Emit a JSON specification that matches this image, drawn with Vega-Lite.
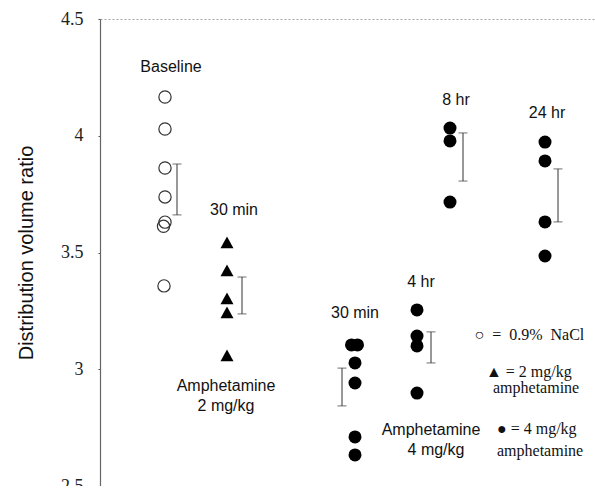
{
  "$schema": "https://vega.github.io/schema/vega-lite/v6.json",
  "width": 496,
  "height": 467,
  "autosize": {"type": "none"},
  "padding": {"left": 100, "top": 19, "right": 0, "bottom": 0},
  "background": "white",
  "config": {
    "view": {"stroke": "#a0a0a0", "strokeDash": [2, 2], "strokeWidth": 1},
    "axis": {"grid": false}
  },
  "datasets": {
    "points": [
      {"group": "Baseline", "pos": 1.30, "value": 4.166},
      {"group": "Baseline", "pos": 1.30, "value": 4.029},
      {"group": "Baseline", "pos": 1.30, "value": 3.862},
      {"group": "Baseline", "pos": 1.30, "value": 3.738},
      {"group": "Baseline", "pos": 1.30, "value": 3.630},
      {"group": "Baseline", "pos": 1.27, "value": 3.612},
      {"group": "Baseline", "pos": 1.28, "value": 3.357},
      {"group": "2 mg/kg 30 min", "pos": 2.54, "value": 3.541},
      {"group": "2 mg/kg 30 min", "pos": 2.54, "value": 3.421},
      {"group": "2 mg/kg 30 min", "pos": 2.54, "value": 3.301},
      {"group": "2 mg/kg 30 min", "pos": 2.54, "value": 3.241},
      {"group": "2 mg/kg 30 min", "pos": 2.54, "value": 3.057},
      {"group": "4 mg/kg 30 min", "pos": 5.03, "value": 3.104},
      {"group": "4 mg/kg 30 min", "pos": 5.15, "value": 3.104},
      {"group": "4 mg/kg 30 min", "pos": 5.10, "value": 3.027},
      {"group": "4 mg/kg 30 min", "pos": 5.10, "value": 2.941},
      {"group": "4 mg/kg 30 min", "pos": 5.10, "value": 2.710},
      {"group": "4 mg/kg 30 min", "pos": 5.10, "value": 2.633},
      {"group": "4 mg/kg 4 hr", "pos": 6.34, "value": 3.254},
      {"group": "4 mg/kg 4 hr", "pos": 6.34, "value": 3.142},
      {"group": "4 mg/kg 4 hr", "pos": 6.34, "value": 3.100},
      {"group": "4 mg/kg 4 hr", "pos": 6.34, "value": 2.898},
      {"group": "4 mg/kg 8 hr", "pos": 7.00, "value": 4.033},
      {"group": "4 mg/kg 8 hr", "pos": 7.00, "value": 3.978},
      {"group": "4 mg/kg 8 hr", "pos": 7.00, "value": 3.716},
      {"group": "4 mg/kg 24 hr", "pos": 8.90, "value": 3.973},
      {"group": "4 mg/kg 24 hr", "pos": 8.90, "value": 3.892},
      {"group": "4 mg/kg 24 hr", "pos": 8.90, "value": 3.631},
      {"group": "4 mg/kg 24 hr", "pos": 8.90, "value": 3.485}
    ],
    "errors": [
      {"group": "Baseline", "pos": 1.54, "lo": 3.661, "hi": 3.879},
      {"group": "2 mg/kg 30 min", "pos": 2.84, "lo": 3.237, "hi": 3.395},
      {"group": "4 mg/kg 30 min", "pos": 4.84, "lo": 2.843, "hi": 3.005},
      {"group": "4 mg/kg 4 hr", "pos": 6.62, "lo": 3.027, "hi": 3.160},
      {"group": "4 mg/kg 8 hr", "pos": 7.26, "lo": 3.806, "hi": 4.012},
      {"group": "4 mg/kg 24 hr", "pos": 9.16, "lo": 3.631, "hi": 3.858}
    ],
    "labels": [
      {"pos": 1.42, "value": 4.294, "text": "Baseline"},
      {"pos": 2.68, "value": 3.682, "text": "30 min"},
      {"pos": 2.52, "value": 2.928, "text": "Amphetamine"},
      {"pos": 2.52, "value": 2.843, "text": "2 mg/kg"},
      {"pos": 5.10, "value": 3.241, "text": "30 min"},
      {"pos": 6.42, "value": 3.374, "text": "4 hr"},
      {"pos": 7.12, "value": 4.153, "text": "8 hr"},
      {"pos": 8.94, "value": 4.097, "text": "24 hr"},
      {"pos": 6.62, "value": 2.740, "text": "Amphetamine"},
      {"pos": 6.72, "value": 2.654, "text": "4 mg/kg"}
    ],
    "key": [
      {"pos": 7.49, "value": 3.147, "text": "○\u00a0 =\u00a0 0.9%\u00a0 NaCl"},
      {"pos": 7.72, "value": 2.990, "text": "▲ = 2 mg/kg"},
      {"pos": 7.86, "value": 2.920, "text": "amphetamine"},
      {"pos": 7.94, "value": 2.742, "text": "● = 4 mg/kg"},
      {"pos": 7.94, "value": 2.652, "text": "amphetamine"}
    ]
  },
  "encoding": {
    "x": {"field": "pos", "type": "quantitative", "scale": {"domain": [0, 9.92]}, "axis": null},
    "y": {
      "field": "value",
      "type": "quantitative",
      "scale": {"domain": [2.5, 4.5], "nice": false, "zero": false},
      "axis": {
        "title": "Distribution volume ratio",
        "values": [2.5, 3, 3.5, 4, 4.5],
        "labelExpr": "datum.value + ''",
        "labelFont": "Liberation Serif",
        "labelFontSize": 18,
        "labelColor": "#222",
        "labelPadding": 15,
        "tickSize": 2,
        "tickColor": "#555",
        "domainColor": "#666",
        "domainWidth": 1.2,
        "titleFont": "Liberation Sans",
        "titleFontSize": 20,
        "titleFontWeight": "normal",
        "titleColor": "#111",
        "titlePadding": 24
      }
    }
  },
  "layer": [
    {
      "data": {"name": "errors"},
      "mark": {"type": "rule", "color": "#333", "strokeWidth": 1},
      "encoding": {
        "y": {"field": "lo", "type": "quantitative"},
        "y2": {"field": "hi"}
      }
    },
    {
      "data": {"name": "errors"},
      "mark": {"type": "tick", "orient": "horizontal", "color": "#333", "size": 9, "thickness": 1},
      "encoding": {"y": {"field": "lo", "type": "quantitative"}}
    },
    {
      "data": {"name": "errors"},
      "mark": {"type": "tick", "orient": "horizontal", "color": "#333", "size": 9, "thickness": 1},
      "encoding": {"y": {"field": "hi", "type": "quantitative"}}
    },
    {
      "data": {"name": "points"},
      "transform": [{"filter": "datum.group === 'Baseline'"}],
      "mark": {"type": "point", "shape": "circle", "filled": false, "size": 150, "stroke": "#333", "strokeWidth": 1.2, "opacity": 1}
    },
    {
      "data": {"name": "points"},
      "transform": [{"filter": "datum.group === '2 mg/kg 30 min'"}],
      "mark": {"type": "point", "shape": "M0,-1L-1,0.8L1,0.8Z", "filled": true, "size": 169, "color": "#000", "opacity": 1}
    },
    {
      "data": {"name": "points"},
      "transform": [{"filter": "indexof(datum.group, '4 mg/kg') === 0"}],
      "mark": {"type": "point", "shape": "circle", "filled": true, "size": 169, "color": "#000", "opacity": 1}
    },
    {
      "data": {"name": "labels"},
      "mark": {"type": "text", "font": "Liberation Sans", "fontSize": 16, "color": "#111", "align": "center", "baseline": "middle"},
      "encoding": {"text": {"field": "text"}}
    },
    {
      "data": {"name": "key"},
      "mark": {"type": "text", "font": "Liberation Serif", "fontSize": 16, "color": "#111", "align": "left", "baseline": "middle"},
      "encoding": {"text": {"field": "text"}}
    }
  ]
}
